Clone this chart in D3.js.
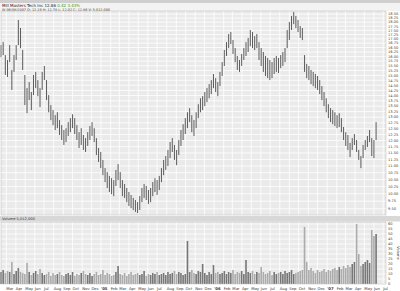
<!DOCTYPE html>
<html><head><meta charset="utf-8">
<script src="https://cdn.jsdelivr.net/npm/d3@7"></script>
<style>html,body{margin:0;padding:0;background:#fff;overflow:hidden}svg{display:block;font-family:"DejaVu Sans",sans-serif}</style>
</head><body><svg id="c" width="400" height="291"></svg>
<script>
// ---- data (weekly bars) ----
const firstWeek = "2004-02-13";
const high = [
16.64,16.81,16.08,15.81,16.64,15.28,16.08,16.64,18.13,17.64,
16.36,15.02,14.36,14.66,14.17,15.02,15.18,14.76,14.36,15.18,
15.49,14.76,14.02,13.55,13.32,13.09,13.22,12.87,12.65,12.44,
12.52,12.78,12.96,13.13,12.96,12.65,12.35,12.52,12.23,12.10,
12.35,12.61,12.78,12.52,12.10,11.70,11.54,11.23,10.92,10.77,
10.63,10.55,10.48,10.85,11.07,10.77,10.48,10.34,10.20,10.06,
9.96,9.86,9.79,9.72,9.92,10.20,10.34,10.27,10.13,10.20,
10.41,10.55,10.48,10.63,10.92,11.23,11.38,11.62,11.94,12.10,
11.82,11.62,12.02,12.44,12.69,12.96,13.22,13.41,13.09,12.87,
13.22,13.59,13.87,13.97,14.17,14.36,14.56,14.76,15.07,14.86,
14.66,15.18,15.70,16.36,16.81,17.28,17.40,16.93,16.47,16.03,
15.81,16.14,16.47,16.81,17.05,17.52,17.40,17.16,17.28,16.81,
16.47,16.25,16.03,15.92,15.81,15.70,15.92,16.03,15.92,16.08,
16.25,16.47,17.52,18.01,18.38,18.63,18.38,18.13,17.76,17.64,
16.08,15.60,15.49,15.28,15.18,15.07,14.97,14.76,14.46,14.17,
13.87,13.59,13.41,13.32,13.22,13.09,13.18,12.96,12.57,12.35,
12.23,11.90,12.10,12.27,12.02,11.62,11.38,11.82,12.02,12.19,
12.44,12.10,12.02,12.78];
const low = [
15.97,16.08,15.02,14.92,15.70,14.27,15.18,15.81,16.64,16.47,
15.28,13.55,13.18,13.78,13.32,14.02,14.36,13.97,13.46,14.27,
14.76,13.78,13.22,12.87,12.65,12.44,12.52,12.23,12.02,11.82,
11.94,12.19,12.35,12.52,12.27,12.02,11.70,11.82,11.62,11.54,
11.78,12.02,12.19,11.94,11.42,11.15,10.92,10.66,10.41,10.20,
10.06,9.99,9.92,10.27,10.48,10.20,9.92,9.86,9.72,9.59,
9.52,9.46,9.40,9.36,9.46,9.72,9.86,9.79,9.66,9.72,
9.92,10.06,9.96,10.13,10.41,10.66,10.85,11.00,11.30,11.54,
11.23,11.03,11.42,11.78,12.02,12.27,12.52,12.78,12.35,12.19,
12.52,12.96,13.22,13.32,13.50,13.69,13.87,14.07,14.36,14.17,
13.97,14.46,14.97,15.49,16.03,16.47,16.70,16.14,15.70,15.28,
15.18,15.49,15.81,16.03,16.25,16.58,16.47,16.36,16.47,15.81,
15.49,15.18,14.97,14.86,14.76,14.86,15.07,15.18,15.12,15.38,
15.49,15.70,16.47,16.93,17.52,17.88,17.64,17.40,17.05,16.93,
15.18,14.86,14.76,14.56,14.46,14.36,14.27,14.07,13.78,13.50,
13.22,12.96,12.78,12.69,12.61,12.52,12.57,12.35,12.02,11.78,
11.62,11.34,11.62,11.82,11.54,11.23,10.92,11.30,11.62,11.74,
11.94,11.38,11.30,12.02];
const volume = [
12,14,11,13,12,22,10,13,16,12,
11,10,21,12,9,11,13,10,15,11,
9,10,12,8,11,9,10,12,9,8,
10,11,9,12,8,10,9,11,13,10,
9,11,8,10,12,9,10,14,9,11,
10,8,9,12,18,10,9,11,8,10,
12,9,10,11,9,10,13,8,10,9,
11,10,12,9,10,11,9,12,10,11,
13,10,12,11,9,10,43,12,14,11,
10,13,12,20,11,9,12,10,19,11,
12,10,11,13,10,12,11,14,10,12,
11,13,10,24,12,11,13,10,12,11,
17,12,10,11,13,9,12,10,11,12,
10,13,11,12,14,10,11,12,13,14,
57,22,14,16,13,11,14,12,13,15,
12,14,13,15,16,14,17,15,18,16,
19,17,20,22,60,30,18,20,22,24,
21,54,48,50];
const priceTicks = [9.50,9.75,10.00,10.25,10.50,10.75,11.00,11.25,11.50,11.75,12.00,12.25,12.50,12.75,13.00,13.25,13.50,13.75,14.00,14.25,14.50,14.75,15.00,15.25,15.50,15.75,16.00,16.25,16.50,16.75,17.00,17.25,17.50,17.75,18.00,18.25,18.50];
const volumeTicks = [0,5,10,15,20,25,30,35,40,45,50,55,60];
const titleName = "Mill Masters Tech Inc";
const titlePrice = "12.86";
const titleChange = "0.42  3.43%";
const titleLine2 = "W 06/08/2007  O: 12.19  H: 12.78  L: 12.02  C: 12.86  V: 5,012,000";
const volumeTitle = "Volume 5,012,000";

// ---- layout ----
const svg = d3.select("#c");
const L = 1, R = 386, pTop = 11, pBot = 215, vTop = 222, vBot = 284;
const parse = d3.timeParse("%Y-%m-%d");
const start = parse(firstWeek);
const dates = high.map((_, i) => d3.timeDay.offset(start, 7 * i));
const x = d3.scaleTime().domain([new Date(2004, 1, 13), new Date(2007, 6, 10)]).range([L, R]);
const y = d3.scaleLog().domain([9.3, 18.7]).range([pBot, pTop]);
const yv = d3.scaleLinear().domain([0, 62]).range([vBot, vTop]);

// header
svg.append("rect").attr("x", 0).attr("y", 0).attr("width", 400).attr("height", 3).attr("fill", "#cfcfcf");
svg.append("rect").attr("x", 0).attr("y", 3).attr("width", 400).attr("height", 8).attr("fill", "#f3f3f3");
const t1 = svg.append("text").attr("x", 2).attr("y", 7).attr("font-size", 4).attr("fill", "#222");
t1.append("tspan").text(titleName + "  " + titlePrice + "  ");
t1.append("tspan").attr("fill", "#2a9a2a").text(titleChange);
svg.append("text").attr("x", 2).attr("y", 10.5).attr("font-size", 3.4).attr("fill", "#333").text(titleLine2);

// panel backgrounds
svg.append("rect").attr("x", L).attr("y", pTop).attr("width", R - L).attr("height", pBot - pTop).attr("fill", "#eaeaea");
svg.append("rect").attr("x", 0).attr("y", 216).attr("width", 400).attr("height", 5.5).attr("fill", "#d8d8d8");
svg.append("text").attr("x", 2).attr("y", 220).attr("font-size", 3.6).attr("fill", "#333").text(volumeTitle);
svg.append("rect").attr("x", L).attr("y", vTop).attr("width", R - L).attr("height", vBot - vTop).attr("fill", "#eaeaea");

// grids
const months = x.ticks(d3.timeMonth.every(1));
const grid = svg.append("g").attr("stroke", "#fff").attr("stroke-width", 0.8);
priceTicks.forEach(p => grid.append("line").attr("x1", L).attr("x2", R).attr("y1", y(p)).attr("y2", y(p)));
volumeTicks.forEach(v => grid.append("line").attr("x1", L).attr("x2", R).attr("y1", yv(v)).attr("y2", yv(v)));
months.forEach(m => {
  grid.append("line").attr("x1", x(m)).attr("x2", x(m)).attr("y1", pTop).attr("y2", pBot);
  grid.append("line").attr("x1", x(m)).attr("x2", x(m)).attr("y1", vTop).attr("y2", vBot);
});

// price bars
svg.append("g").selectAll("line").data(dates).join("line")
  .attr("x1", d => x(d)).attr("x2", d => x(d))
  .attr("y1", (d, i) => y(high[i])).attr("y2", (d, i) => y(low[i]))
  .attr("stroke", "#5c5c5c").attr("stroke-width", 1);

// volume bars
svg.append("g").selectAll("rect").data(dates).join("rect")
  .attr("x", d => x(d) - 0.8).attr("width", 1.6)
  .attr("y", (d, i) => yv(volume[i])).attr("height", (d, i) => vBot - yv(volume[i]))
  .attr("fill", (d, i) => (i > 0 && high[i] + low[i] < high[i - 1] + low[i - 1]) ? "#ababab" : "#777");

// frames
svg.append("rect").attr("x", L).attr("y", pTop).attr("width", R - L).attr("height", pBot - pTop).attr("fill", "none").attr("stroke", "#bbb").attr("stroke-width", 0.5);
svg.append("rect").attr("x", L).attr("y", vTop).attr("width", R - L).attr("height", vBot - vTop).attr("fill", "none").attr("stroke", "#bbb").attr("stroke-width", 0.5);

// right axes
const fmt = d3.format(".2f");
svg.append("g").selectAll("text").data(priceTicks).join("text")
  .attr("x", R + 2).attr("y", d => y(d) + 1.3).attr("font-size", 3.6).attr("fill", "#444").text(d => fmt(d));
svg.append("g").selectAll("text").data(volumeTicks).join("text")
  .attr("x", R + 2).attr("y", d => yv(d) + 1.3).attr("font-size", 3.6).attr("fill", "#444").text(d => d);
svg.append("text").attr("transform", "translate(397,253) rotate(90)").attr("text-anchor", "middle")
  .attr("font-size", 3.6).attr("fill", "#444").text("Volume");

// bottom axis (month labels)
const mfmt = d3.timeFormat("%b");
svg.append("g").selectAll("text").data(months).join("text")
  .attr("x", d => x(d)).attr("y", 289.5).attr("font-size", 3.8).attr("fill", "#333")
  .attr("font-weight", d => d.getMonth() === 0 ? "bold" : "normal")
  .text(d => d.getMonth() === 0 ? "'" + d3.timeFormat("%y")(d) : mfmt(d));
</script></body></html>
